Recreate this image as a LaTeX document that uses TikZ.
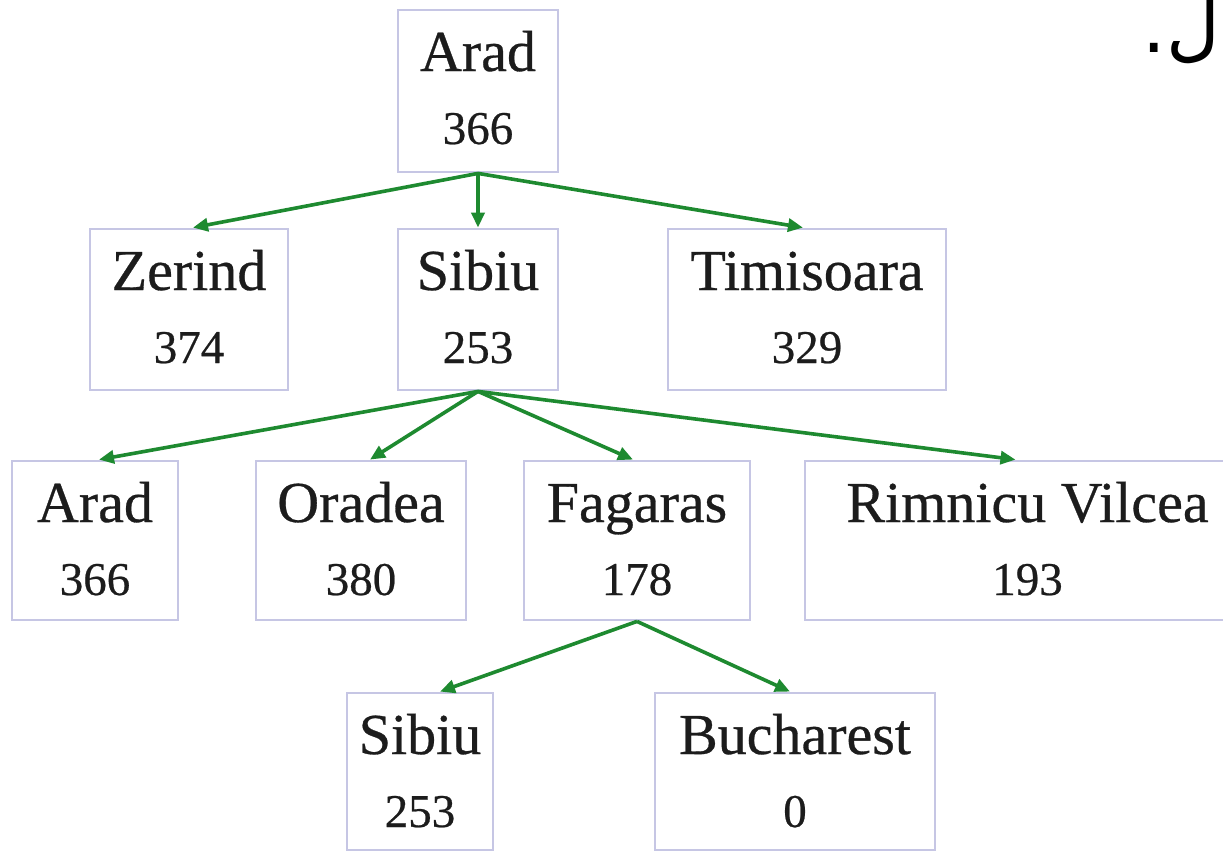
\documentclass[tikz,border=0pt]{standalone}
\usepackage{fontspec}
\setmainfont{Liberation Serif}[FakeBold=0.5]
\newfontfamily\arabicfont[Script=Arabic]{DejaVu Sans}
\TeXXeTstate=1
\usetikzlibrary{arrows.meta}

\definecolor{edgegreen}{RGB}{30,138,48}
\definecolor{boxline}{RGB}{198,198,228}
\definecolor{inkgray}{RGB}{28,28,28}

\tikzset{
  cbox/.style={draw=boxline, line width=2.8pt, rectangle, inner sep=0pt},
  cityname/.style={font=\fontsize{58}{60}\selectfont, text=inkgray, inner sep=0pt},
  cityval/.style={font=\fontsize{47}{50}\selectfont, text=inkgray, inner sep=0pt},
  arr/.style={draw=edgegreen, line width=3.6pt,
    -{Triangle[length=15pt,width=13pt]}}
}

% #1 name, #2 left, #3 top, #4 right, #5 bottom, #6 city, #7 heuristic value
\newcommand{\citybox}[7]{%
  \node[cbox, minimum width={(#4-#2)*1pt}, minimum height={(#5-#3)*1pt}]
    (#1) at ({(#2+#4)/2},{(#3+#5)/2}) {};
  \node[cityname, anchor=base] (#1-name) at ({(#2+#4)/2},{#3+61}) {#6};
  \node[cityval, anchor=base] (#1-val) at ({(#2+#4)/2},{#3+134}) {#7};
}

\begin{document}
\begin{tikzpicture}[x=1pt, y=-1pt]
  \useasboundingbox (0,0) rectangle (1223,855);
  \fill[white] (0,0) rectangle (1223,855);
  \clip (0,0) rectangle (1223,855);

  % search tree
  \citybox{arad}{398}{10}{558}{172}{Arad}{366}
  \citybox{zerind}{90}{229}{288}{390}{Zerind}{374}
  \citybox{sibiu}{398}{229}{558}{390}{Sibiu}{253}
  \citybox{timisoara}{668}{229}{946}{390}{Timisoara}{329}
  \citybox{aradb}{12}{461}{178}{620}{Arad}{366}
  \citybox{oradea}{256}{461}{466}{620}{Oradea}{380}
  \citybox{fagaras}{524}{461}{750}{620}{Fagaras}{178}
  \citybox{rimnicu}{805}{461}{1250}{620}{Rimnicu Vilcea}{193}
  \citybox{sibiub}{347}{693}{493}{850}{Sibiu}{253}
  \citybox{bucharest}{655}{693}{935}{850}{Bucharest}{0}

  % expansions
  \draw[arr] (arad.south) -- ([xshift=4pt]zerind.north);
  \draw[arr] (arad.south) -- (sibiu.north);
  \draw[arr] (arad.south) -- ([xshift=-4pt]timisoara.north);
  \draw[arr] (sibiu.south) -- ([xshift=4pt]aradb.north);
  \draw[arr] (sibiu.south) -- ([xshift=9pt]oradea.north);
  \draw[arr] (sibiu.south) -- ([xshift=-4pt]fagaras.north);
  \draw[arr] (sibiu.south) -- ([xshift=-12pt]rimnicu.north);
  \draw[arr] (fagaras.south) -- ([xshift=20pt]sibiub.north);
  \draw[arr] (fagaras.south) -- ([xshift=-5pt]bucharest.north);

  % stray glyph at the upper right
  \node[font=\arabicfont\fontsize{74}{74}\selectfont, anchor=base east, inner sep=0pt]
    (glyph) at (1220,52) {\beginR ل.\endR};
\end{tikzpicture}
\end{document}
